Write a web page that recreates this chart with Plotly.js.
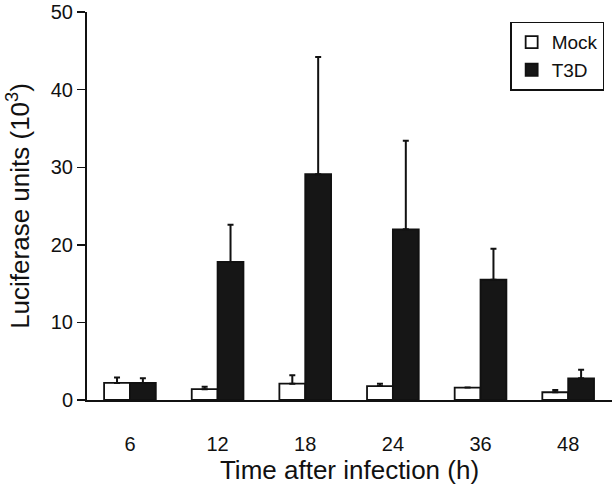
<!DOCTYPE html>
<html>
<head>
<meta charset="utf-8">
<script src="https://cdn.plot.ly/plotly-3.0.1.min.js"></script>
<style>html,body{margin:0;padding:0;background:#fff;}#chart{width:613px;height:493px;}</style>
</head>
<body>
<div id="chart"></div>
<script>
var categories = ["6", "12", "18", "24", "36", "48"];
var mockValues = [2.2, 1.4, 2.1, 1.8, 1.6, 1.0];
var mockErrors = [0.7, 0.3, 1.1, 0.3, 0.0, 0.3];
var t3dValues = [2.2, 17.8, 29.1, 22.0, 15.5, 2.8];
var t3dErrors = [0.6, 4.8, 15.1, 11.4, 4.0, 1.1];
var seriesNames = ["Mock", "T3D"];
var yTicks = [0, 10, 20, 30, 40, 50];

var font = "Arial, 'Liberation Sans', Helvetica, sans-serif";
var errStyle = function (arr) {
  return {type: "data", symmetric: false, array: arr,
          arrayminus: arr.map(function () { return 0; }),
          color: "#111", thickness: 2, width: 3};
};

var traces = [
  {type: "bar", name: seriesNames[0], x: categories, y: mockValues,
   marker: {color: "#ffffff", line: {color: "#111", width: 1.8}},
   error_y: errStyle(mockErrors)},
  {type: "bar", name: seriesNames[1], x: categories, y: t3dValues,
   marker: {color: "#161616", line: {color: "#111", width: 1.8}},
   error_y: errStyle(t3dErrors)}
];

var layout = {
  width: 613, height: 493,
  margin: {l: 87, r: 1, t: 12, b: 93},
  paper_bgcolor: "#fff", plot_bgcolor: "#fff",
  font: {family: font, color: "#111", size: 20},
  barmode: "group", bargap: 0.41, bargroupgap: 0,
  showlegend: true,
  legend: {x: 0.806, y: 0.975, xanchor: "left", yanchor: "top",
           bordercolor: "#111", borderwidth: 1.5, bgcolor: "#fff",
           font: {family: font, size: 19, color: "#111"},
           tracegroupgap: 2, itemwidth: 30},
  xaxis: {type: "category", range: [-0.49, 5.5], showline: true,
          linecolor: "#111", linewidth: 2, ticks: "", showgrid: false,
          zeroline: false, ticklabelstandoff: 25,
          tickfont: {size: 20},
          title: {text: "Time after infection (h)", font: {size: 26}, standoff: 0}},
  yaxis: {range: [0, 50.01], tickvals: yTicks, showline: true,
          linecolor: "#111", linewidth: 2, ticks: "outside", ticklen: 8,
          tickwidth: 1.5, tickcolor: "#111", showgrid: false, zeroline: false,
          ticklabeloverflow: "allow",
          tickfont: {size: 20},
          title: {text: "Luciferase units (10<sup>3</sup>)", font: {size: 26}, standoff: 14}}
};

Plotly.newPlot("chart", traces, layout, {displayModeBar: false, staticPlot: true});
</script>
</body>
</html>
